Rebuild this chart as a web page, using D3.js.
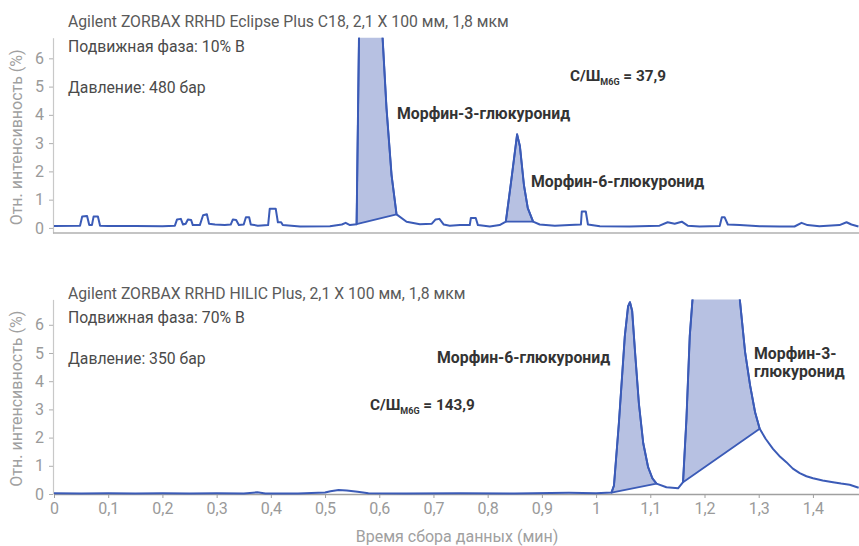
<!DOCTYPE html>
<html>
<head>
<meta charset="utf-8">
<script src="https://cdn.jsdelivr.net/npm/d3@7/dist/d3.min.js"></script>
<style>
  html, body { margin: 0; padding: 0; background: #fff; }
  svg { display: block; font-family: Roboto, "Noto Sans", sans-serif; }
</style>
</head>
<body>
<svg id="chart" width="859" height="546"></svg>
<script>
// ---------- DATA ----------
// Top panel: Eclipse Plus C18 (time in min, relative intensity in %)
const topTimes = [0, 0.048, 0.052, 0.061, 0.065, 0.070, 0.073, 0.081, 0.085, 0.10, 0.15, 0.20, 0.223,
  0.227, 0.234, 0.238, 0.243, 0.247, 0.253, 0.256, 0.269, 0.275, 0.282, 0.286, 0.297, 0.315, 0.326,
  0.330, 0.336, 0.341, 0.350, 0.354, 0.360, 0.363, 0.376, 0.395, 0.398, 0.409, 0.413, 0.419, 0.422,
  0.454, 0.509, 0.531, 0.538, 0.546, 0.5582, 0.5630, 0.5827, 0.6045, 0.6134, 0.6227, 0.6319, 0.6504,
  0.6749, 0.697, 0.704, 0.711, 0.719, 0.730, 0.749, 0.767, 0.769, 0.778, 0.782, 0.804, 0.822, 0.8335,
  0.843, 0.8543, 0.8594, 0.867, 0.874, 0.8838, 0.896, 0.924, 0.951, 0.972, 0.9736, 0.981, 0.985,
  1.007, 1.062, 1.117, 1.132, 1.145, 1.158, 1.169, 1.191, 1.228, 1.232, 1.237, 1.243, 1.265, 1.302,
  1.339, 1.366, 1.379, 1.390, 1.412, 1.449, 1.462, 1.471, 1.484];
const topValues = [0.07, 0.08, 0.40, 0.42, 0.10, 0.10, 0.40, 0.40, 0.08, 0.07, 0.07, 0.06, 0.08,
  0.30, 0.32, 0.12, 0.15, 0.30, 0.28, 0.10, 0.10, 0.45, 0.48, 0.15, 0.12, 0.10, 0.12,
  0.30, 0.28, 0.10, 0.12, 0.38, 0.38, 0.12, 0.08, 0.10, 0.68, 0.68, 0.20, 0.20, 0.10,
  0.05, 0.06, 0.12, 0.18, 0.10, 0.13, 7.3, 7.3, 7.3, 4.23, 1.87, 0.48, 0.22,
  0.13, 0.15, 0.30, 0.32, 0.12, 0.08, 0.10, 0.10, 0.35, 0.35, 0.10, 0.05, 0.10, 0.22,
  1.6, 3.31, 2.9, 1.5, 0.7, 0.22, 0.12, 0.08, 0.10, 0.12, 0.58, 0.58, 0.12,
  0.06, 0.05, 0.08, 0.20, 0.15, 0.22, 0.08, 0.05, 0.07, 0.38, 0.38, 0.12, 0.10, 0.06,
  0.05, 0.05, 0.18, 0.10, 0.06, 0.10, 0.20, 0.12, 0.05];
// integrated peak windows (start, end time) in top panel
const topPeakStarts = [0.5582, 0.8335];
const topPeakEnds   = [0.6319, 0.8838];

// Bottom panel: HILIC Plus
const bottomTimes = [0, 0.05, 0.10, 0.15, 0.20, 0.25, 0.30, 0.35, 0.375, 0.39, 0.45, 0.50, 0.51, 0.525,
  0.54, 0.56, 0.58, 0.65, 0.75, 0.85, 0.95, 1.0, 1.0284, 1.0330, 1.0420, 1.0530, 1.0590, 1.0625,
  1.0665, 1.0720, 1.0790, 1.0870, 1.0960, 1.1040, 1.1114, 1.1298, 1.1512, 1.1604, 1.1667, 1.1728,
  1.1802, 1.22, 1.262, 1.2749, 1.2841, 1.2933, 1.3018, 1.313, 1.3263, 1.338, 1.351, 1.363, 1.3756,
  1.388, 1.4002, 1.418, 1.4371, 1.452, 1.4678, 1.4844];
const bottomValues = [0.03, 0.02, 0.03, 0.02, 0.03, 0.02, 0.03, 0.02, 0.06, 0.02, 0.02, 0.05, 0.10, 0.14,
  0.12, 0.08, 0.03, 0.02, 0.03, 0.02, 0.04, 0.03, 0.05, 0.30, 2.5, 5.6, 6.65, 6.8,
  6.5, 5.0, 3.2, 1.8, 0.95, 0.55, 0.37, 0.24, 0.20, 0.42, 2.67, 5.6,
  7.5, 7.5, 7.5, 5.03, 3.85, 2.9, 2.31, 1.95, 1.6, 1.35, 1.13, 0.9, 0.74,
  0.63, 0.56, 0.48, 0.42, 0.37, 0.33, 0.22];
const bottomPeakStarts = [1.0284, 1.1604];
const bottomPeakEnds   = [1.1114, 1.3018];

const xTicks = [0, 0.1, 0.2, 0.3, 0.4, 0.5, 0.6, 0.7, 0.8, 0.9, 1.0, 1.1, 1.2, 1.3, 1.4];
const yTicks = [0, 1, 2, 3, 4, 5, 6];

const topInfo = ["Agilent ZORBAX RRHD Eclipse Plus C18, 2,1 X 100 мм, 1,8 мкм",
                 "Подвижная фаза: 10% B", "Давление: 480 бар"];
const bottomInfo = ["Agilent ZORBAX RRHD HILIC Plus, 2,1 X 100 мм, 1,8 мкм",
                    "Подвижная фаза: 70% B", "Давление: 350 бар"];
const yTitle = "Отн. интенсивность (%)";
const xTitle = "Время сбора данных (мин)";

// ---------- DRAW ----------
const svg = d3.select("#chart");
const LINE = "#3b5bb7", FILL = "#b7c1e2";
const x = d3.scaleLinear().domain([0, 1.485]).range([54, 859]);
const fmt = d => d3.format(".1~f")(d).replace(".", ",");

function panel(id, times, values, starts, ends, yDomain, yRange, showX) {
  const y = d3.scaleLinear().domain(yDomain).range(yRange);
  const g = svg.append("g");
  const pts = times.map((t, i) => [t, values[i]]);

  g.append("clipPath").attr("id", id).append("rect")
    .attr("x", 50).attr("y", yRange[1]).attr("width", 820).attr("height", yRange[0] - yRange[1] + 10);

  // axes
  const ya = g.append("g").attr("transform", `translate(${x.range()[0] - 1},0)`)
    .call(d3.axisLeft(y).tickValues(yTicks).tickSize(4).tickSizeOuter(0).tickPadding(5).tickFormat(d3.format("d")));
  ya.select(".domain").attr("stroke", "#c8c8c8").attr("stroke-width", 1.2);
  ya.selectAll(".tick line").attr("stroke", "#b0b0b0");
  ya.selectAll(".tick text").attr("fill", "#9a9a9a").style("font-size", "16px").style("font-family", "Roboto");

  if (showX) {
    const xa = g.append("g").attr("transform", `translate(0,${yRange[0]})`)
      .call(d3.axisBottom(x).tickValues(xTicks).tickSize(4).tickSizeOuter(0).tickPadding(5).tickFormat(fmt));
    xa.select(".domain").attr("stroke", "#a0a0a0").attr("stroke-width", 1.5);
    xa.selectAll(".tick line").attr("stroke", "#a0a0a0");
    xa.selectAll(".tick text").attr("fill", "#9a9a9a").style("font-size", "16px").style("font-family", "Roboto");
  } else {
    g.append("line").attr("x1", x.range()[0] - 1).attr("x2", 859)
      .attr("y1", yRange[0]).attr("y2", yRange[0]).attr("stroke", "#b0b0b0").attr("stroke-width", 1.5);
  }

  const cg = g.append("g").attr("clip-path", `url(#${id})`);
  const line = d3.line().x(d => x(d[0])).y(d => y(d[1]));
  starts.forEach((s, k) => {
    const seg = pts.filter(p => p[0] >= s - 1e-9 && p[0] <= ends[k] + 1e-9);
    cg.append("path").attr("d", line(seg) + "Z").attr("fill", FILL).attr("stroke", LINE)
      .attr("stroke-width", 1.8).attr("stroke-linejoin", "round");
  });
  cg.append("path").datum(pts).attr("d", line).attr("fill", "none").attr("stroke", LINE)
    .attr("stroke-width", 2).attr("stroke-linejoin", "round");

  // y title
  svg.append("text").attr("transform", `translate(22,${(yRange[0] + yRange[1]) / 2 + 2}) rotate(-90)`)
    .attr("text-anchor", "middle").attr("fill", "#a0a0a0").style("font-size", "16px").text(yTitle);
  return y;
}

panel("clipTop", topTimes, topValues, topPeakStarts, topPeakEnds, [-0.18, 6.73], [233, 37.7], false);
panel("clipBot", bottomTimes, bottomValues, bottomPeakStarts, bottomPeakEnds, [0, 6.9], [494, 299.4], true);

// info texts
function info(lines, ys) {
  lines.forEach((s, i) => svg.append("text").attr("x", 68).attr("y", ys[i])
    .attr("fill", i === 0 ? "#5a5a5a" : "#4a4a4a").style("font-size", "15.75px").text(s));
}
info(topInfo, [27, 52, 93]);
info(bottomInfo, [299, 323, 364]);

function bold(txt, xp, yp) {
  svg.append("text").attr("x", xp).attr("y", yp).attr("fill", "#333")
    .style("font-size", "15.8px").style("font-weight", "700").text(txt);
}
bold("Морфин-3-глюкуронид", 397, 119);
bold("Морфин-6-глюкуронид", 531, 187);
bold("Морфин-6-глюкуронид", 437, 363);
bold("Морфин-3-", 754, 359);
bold("глюкуронид", 754, 377);

function sn(xp, yp, val) {
  const t = svg.append("text").attr("x", xp).attr("y", yp).attr("fill", "#333")
    .style("font-size", "15.3px").style("font-weight", "700");
  t.append("tspan").text("С/Ш");
  t.append("tspan").attr("dy", 4).style("font-size", "9px").text("M6G");
  t.append("tspan").attr("dy", -4).text(" = " + val);
}
sn(570, 81, "37,9");
sn(370, 410, "143,9");

svg.append("text").attr("x", 457).attr("y", 542).attr("text-anchor", "middle")
  .attr("fill", "#a0a0a0").style("font-size", "16px").text(xTitle);
</script>
</body>
</html>
